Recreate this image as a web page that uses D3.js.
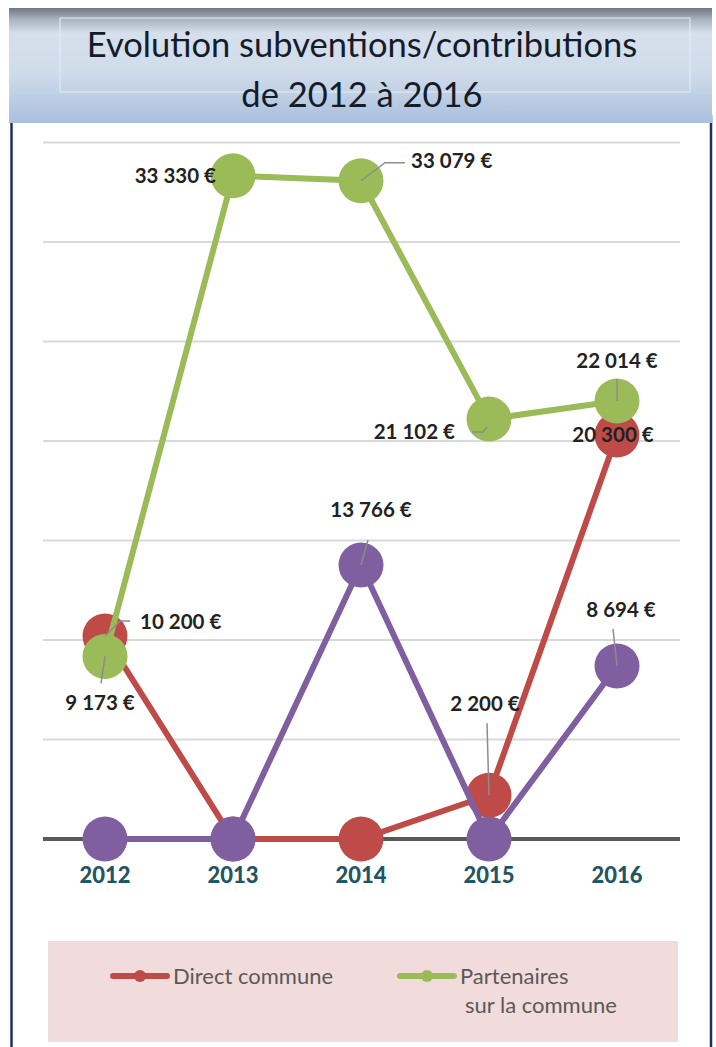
<!DOCTYPE html>
<html>
<head>
<meta charset="utf-8">
<script src="https://cdn.jsdelivr.net/npm/d3@7"></script>
<style>
body { margin:0; background:#fff; }
svg { display:block; }
</style>
</head>
<body>
<div id="chart"></div>
<script>
var years = ["2012", "2013", "2014", "2015", "2016"];
var directCommune = [10200, 0, 0, 2200, 20300];
var partenaires = [9173, 33330, 33079, 21102, 22014];
var autres = [0, 0, 13766, 0, 8694];
var yTicks = [0, 5000, 10000, 15000, 20000, 25000, 30000, 35000];
var legendLabels = ["Direct commune", "Partenaires"];

var W = 716, H = 1047;
var svg = d3.select("#chart").append("svg")
    .attr("width", W).attr("height", H);

var defs = svg.append("defs");
var grad = defs.append("linearGradient").attr("id", "titleGrad")
    .attr("x1", 0).attr("y1", 0).attr("x2", 0).attr("y2", 1);
grad.append("stop").attr("offset", "0%").attr("stop-color", "#70777f");
grad.append("stop").attr("offset", "10%").attr("stop-color", "#a9b4c1");
grad.append("stop").attr("offset", "22%").attr("stop-color", "#d6e0ec");
grad.append("stop").attr("offset", "55%").attr("stop-color", "#d1dceb");
grad.append("stop").attr("offset", "100%").attr("stop-color", "#a9c0de");

// frame
svg.append("line").attr("x1", 11.5).attr("x2", 11.5).attr("y1", 115).attr("y2", H)
    .attr("stroke", "#1f3060").attr("stroke-width", 2.5);
svg.append("line").attr("x1", 711).attr("x2", 711).attr("y1", 115).attr("y2", H)
    .attr("stroke", "#1f3060").attr("stroke-width", 2.5);

// title box
svg.append("rect").attr("x", 9).attr("y", 8).attr("width", 703).attr("height", 115)
    .attr("fill", "url(#titleGrad)");
svg.append("rect").attr("x", 60).attr("y", 18).attr("width", 630).attr("height", 74)
    .attr("fill", "none").attr("stroke", "#e6edf6").attr("stroke-width", 1);
svg.append("text").attr("x", 362).attr("y", 57)
    .attr("text-anchor", "middle")
    .style("font-family", "Lato, 'Open Sans', sans-serif")
    .style("font-size", "34.5px").style("fill", "#141c2a")
    .text("Evolution subventions/contributions");
svg.append("text").attr("x", 362).attr("y", 107)
    .attr("text-anchor", "middle")
    .style("font-family", "Lato, 'Open Sans', sans-serif")
    .style("font-size", "34.5px").style("fill", "#141c2a")
    .text("de 2012 à 2016");

// scales
var x = d3.scaleBand().domain(years).range([41, 681]);
var y = d3.scaleLinear().domain([0, 35000]).range([839, 142.5]);
var cx = function(i) { return x(years[i]) + x.bandwidth() / 2; };

// grid
svg.append("g").selectAll("line").data(yTicks.slice(1)).enter().append("line")
    .attr("x1", 43).attr("x2", 680)
    .attr("y1", function(d) { return y(d); }).attr("y2", function(d) { return y(d); })
    .attr("stroke", "#d9d9d9").attr("stroke-width", 2);

// x axis
var xAxis = svg.append("g").attr("transform", "translate(0," + y(0) + ")")
    .call(d3.axisBottom(x).tickSize(0).tickPadding(28));
xAxis.select(".domain").attr("stroke", "#595959").attr("stroke-width", 4)
    .attr("d", "M43,0H680");
xAxis.selectAll("text")
    .style("font-family", "Lato, 'Open Sans', sans-serif")
    .style("font-weight", "900").style("font-size", "22px")
    .style("fill", "#1f5666");

var series = [
    { values: directCommune, color: "#be4b48" },
    { values: partenaires, color: "#9bbb59" },
    { values: autres, color: "#7f5fa0" }
];

var line = d3.line()
    .x(function(d, i) { return cx(i); })
    .y(function(d) { return y(d); });

series.forEach(function(s) {
    var g = svg.append("g");
    g.append("path").datum(s.values)
        .attr("d", line).attr("fill", "none")
        .attr("stroke", s.color).attr("stroke-width", 6);
    g.selectAll("circle").data(s.values).enter().append("circle")
        .attr("cx", function(d, i) { return cx(i); })
        .attr("cy", function(d) { return y(d); })
        .attr("r", 22.5)
        .attr("fill", s.color);
});

// data labels: offset of label from point, and leader path (relative to point)
var fmt = function(v) { return d3.format(",")(v).replace(/,/g, " ") + " €"; };
var labels = [
    { v: partenaires, i: 1, dx: -17, dy: 0, anchor: "end", leader: null },
    { v: partenaires, i: 2, dx: 50, dy: -20, anchor: "start", leader: [[0, 0], [24, -18], [44, -18]] },
    { v: partenaires, i: 3, dx: -34, dy: 13, anchor: "end", leader: [[-2, 8], [-6, 13], [-17, 13]] },
    { v: partenaires, i: 4, dx: 0, dy: -40, anchor: "middle", leader: [[0, 0], [0, -22]] },
    { v: directCommune, i: 4, dx: -4, dy: 0, anchor: "middle", leader: null },
    { v: autres, i: 2, dx: 10, dy: -55, anchor: "middle", leader: [[0, 0], [7, -25]] },
    { v: directCommune, i: 0, dx: 35, dy: -14, anchor: "start", leader: [[0, 0], [15, -15], [25, -15]] },
    { v: partenaires, i: 0, dx: -5, dy: 46, anchor: "middle", leader: [[0, 0], [-4, 27]] },
    { v: directCommune, i: 3, dx: -4, dy: -91, anchor: "middle", leader: [[0, 0], [-2, -72]] },
    { v: autres, i: 4, dx: 4, dy: -56, anchor: "middle", leader: [[0, 0], [-4, -37]] }
];

var lg = svg.append("g");
labels.forEach(function(l) {
    var px = cx(l.i), py = y(l.v[l.i]);
    if (l.leader) {
        lg.append("path")
            .attr("d", d3.line()(l.leader.map(function(p) { return [px + p[0], py + p[1]]; })))
            .attr("fill", "none").attr("stroke", "#8c8c8c").attr("stroke-width", 1.5);
    }
});
labels.forEach(function(l) {
    var px = cx(l.i), py = y(l.v[l.i]);
    lg.append("text")
        .attr("x", px + l.dx).attr("y", py + l.dy)
        .attr("dy", "0.35em")
        .attr("text-anchor", l.anchor)
        .style("font-family", "Lato, 'Open Sans', sans-serif")
        .style("font-weight", "bold").style("font-size", "20.5px")
        .style("fill", "#222222")
        .text(fmt(l.v[l.i]));
});

// legend
svg.append("rect").attr("x", 48).attr("y", 941).attr("width", 630).attr("height", 101)
    .attr("fill", "#f2dcdb");
var legItems = [
    { color: series[0].color, x: 113, lines: [legendLabels[0]] },
    { color: series[1].color, x: 400, lines: [legendLabels[1], "sur la commune"] }
];
legItems.forEach(function(it) {
    var g = svg.append("g").attr("transform", "translate(" + it.x + ",976)");
    g.append("line").attr("x1", 0).attr("x2", 54).attr("y1", 0).attr("y2", 0)
        .attr("stroke", it.color).attr("stroke-width", 6).attr("stroke-linecap", "round");
    g.append("circle").attr("cx", 27).attr("cy", 0).attr("r", 6).attr("fill", it.color);
    it.lines.forEach(function(t, k) {
        g.append("text").attr("x", 60 + k * 5).attr("y", k * 29).attr("dy", "0.35em")
            .style("font-family", "Lato, 'Open Sans', sans-serif")
            .style("font-size", "22px").style("fill", "#595959")
            .text(t);
    });
});
</script>
</body>
</html>
